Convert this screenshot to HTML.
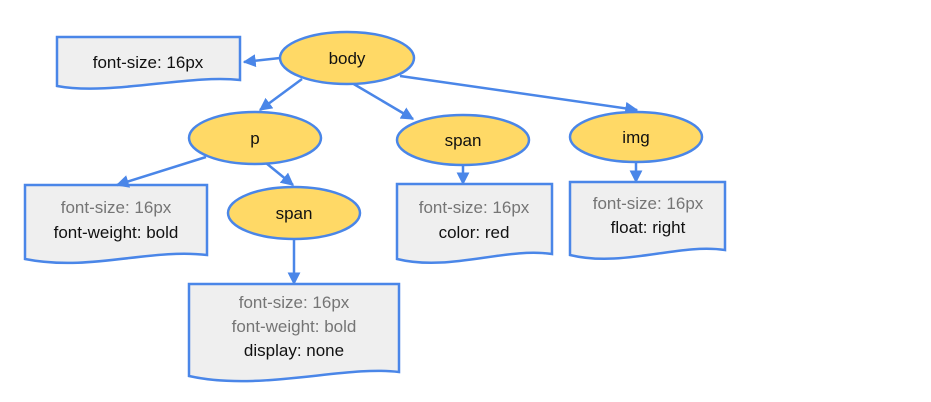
<!DOCTYPE html>
<html><head><meta charset="utf-8"><style>
html,body{margin:0;padding:0;background:#fff;}
svg{display:block;}
text{font-family:"Liberation Sans",Arial,sans-serif;font-size:17px;text-anchor:middle;}
.g{fill:#757575}.k{fill:#111}
</style></head><body>
<svg width="931" height="402" viewBox="0 0 931 402" xmlns="http://www.w3.org/2000/svg">
<defs>
<marker id="ar" viewBox="0 0 10 10" refX="9" refY="5" markerWidth="13" markerHeight="13" orient="auto" markerUnits="userSpaceOnUse"><path d="M0,0 L10,5 L0,10 z" fill="#4a86e8"/></marker>
</defs>
<g fill="#efefef" stroke="#4a86e8" stroke-width="2.5">
<path d="M57,37 H240 V80 C190,74 110,96 57,86 Z"/>
<path d="M25,185 H207 V255 C150,248 90,272 25,259 Z"/>
<path d="M397,184 H552 V254 C505,247 450,272 397,259 Z"/>
<path d="M570,182 H725 V250 C678,243 623,268 570,255 Z"/>
<path d="M189,284 H399 V372 C345,365 260,392 189,376 Z"/>
</g>
<g stroke="#4a86e8" stroke-width="2.5" fill="none" marker-end="url(#ar)">
<line x1="280" y1="58" x2="244" y2="62"/>
<line x1="302" y1="79" x2="260" y2="110"/>
<line x1="352" y1="83" x2="413" y2="119"/>
<line x1="400" y1="76" x2="637" y2="110"/>
<line x1="206" y1="157" x2="117" y2="185"/>
<line x1="266" y1="163" x2="293" y2="185"/>
<line x1="294" y1="239" x2="294" y2="284"/>
<line x1="463" y1="165" x2="463" y2="184"/>
<line x1="636" y1="163" x2="636" y2="182"/>
</g>
<g fill="#ffd966" stroke="#4a86e8" stroke-width="2.5">
<ellipse cx="347" cy="58" rx="67" ry="26"/>
<ellipse cx="255" cy="138" rx="66" ry="26"/>
<ellipse cx="463" cy="140" rx="66" ry="25"/>
<ellipse cx="636" cy="137" rx="66" ry="25"/>
<ellipse cx="294" cy="213" rx="66" ry="26"/>
</g>
<text x="148" y="68" class="k">font-size: 16px</text>
<text x="347" y="64" class="k">body</text>
<text x="255" y="144" class="k">p</text>
<text x="463" y="146" class="k">span</text>
<text x="636" y="143" class="k">img</text>
<text x="294" y="219" class="k">span</text>
<text x="116" y="213" class="g">font-size: 16px</text>
<text x="116" y="238" class="k">font-weight: bold</text>
<text x="474" y="213" class="g">font-size: 16px</text>
<text x="474" y="238" class="k">color: red</text>
<text x="648" y="209" class="g">font-size: 16px</text>
<text x="648" y="233" class="k">float: right</text>
<text x="294" y="308" class="g">font-size: 16px</text>
<text x="294" y="332" class="g">font-weight: bold</text>
<text x="294" y="356" class="k">display: none</text>
</svg>
</body></html>
